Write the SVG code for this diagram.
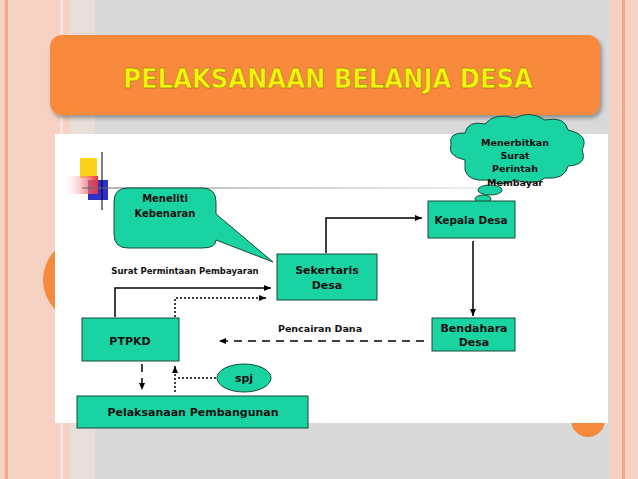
<svg xmlns="http://www.w3.org/2000/svg" width="638" height="479" viewBox="0 0 638 479">
<defs>
<linearGradient id="redg" x1="0" x2="1"><stop offset="0" stop-color="#fff" stop-opacity="0"/><stop offset="1" stop-color="#e8303a"/></linearGradient>
<linearGradient id="lineg" gradientUnits="userSpaceOnUse" x1="82" y1="0" x2="480" y2="0"><stop offset="0" stop-color="#666"/><stop offset="1" stop-color="#ddd"/></linearGradient>
<marker id="ah" markerWidth="8" markerHeight="8" refX="7" refY="4" orient="auto" markerUnits="userSpaceOnUse"><path d="M0,1 L7,4 L0,7 Z" fill="#000"/></marker>
<filter id="sh"><feDropShadow dx="2" dy="3" stdDeviation="2" flood-opacity="0.35"/></filter>
</defs>
<style>
.n{fill:#19d3a2;stroke:#1a4a3a;stroke-width:1}
.t{font-family:Verdana,"DejaVu Sans",sans-serif;font-weight:bold;fill:#111;text-anchor:middle}
.c{fill:none;stroke:#000;stroke-width:1.5}
</style>
<rect width="638" height="479" fill="#d9d9d9"/>
<rect x="0" y="0" width="95" height="479" fill="#f5d2c4"/>
<rect x="5" y="0" width="3" height="479" fill="#f2a88a"/>
<rect x="60" y="0" width="3" height="479" fill="#f7e4dc"/>
<rect x="70" y="0" width="25" height="479" fill="#eaded8"/>
<rect x="610" y="0" width="28" height="479" fill="#f5d2c4"/>
<rect x="622" y="0" width="3" height="479" fill="#f2a88a"/>
<circle cx="85" cy="280" r="42" fill="#f58a3c"/>
<circle cx="588" cy="420" r="17" fill="#f58a3c"/>
<rect x="50" y="35" width="550" height="80" rx="12" fill="#f98a3c" filter="url(#sh)"/>
<text x="328" y="88" font-family="'DejaVu Sans Condensed','DejaVu Sans',sans-serif" font-weight="bold" font-size="27" fill="#f2f20f" text-anchor="middle" stroke="#7a6a00" stroke-width="0.4">PELAKSANAAN BELANJA DESA</text>
<rect x="55" y="134" width="553" height="289" fill="#fff"/>
<rect x="80" y="158" width="17" height="20" fill="#fcd21a"/>
<rect x="88" y="180" width="20" height="20" fill="#3030c8"/>
<rect x="62" y="176" width="36" height="18" fill="url(#redg)"/>
<line x1="102" y1="152" x2="102" y2="210" stroke="#000" stroke-width="1"/>
<line x1="82" y1="188" x2="480" y2="188" stroke="url(#lineg)" stroke-width="1.2"/>
<g id="meneliti">
<path class="n" d="M128,188 H202 Q216,188 216,202 V214 L273,262 L216,240 Q216,248 202,248 H128 Q114,248 114,234 V202 Q114,188 128,188 Z"/>
<text class="t" font-size="10" x="165" y="202">Meneliti</text>
<text class="t" font-size="10" x="165" y="217">Kebenaran</text>
</g>
<g id="cloud">
<path class="n" d="M465,160 Q447,156 451,145 Q448,132 465,133 Q468,120 485,124 Q495,112 515,118 Q530,110 545,120 Q565,116 568,130 Q590,135 582,150 Q588,165 568,166 Q565,180 545,178 Q535,186 515,180 Q500,188 488,180 Q468,182 465,170 Z"/>
<ellipse class="n" cx="490" cy="190" rx="12" ry="5"/>
<ellipse class="n" cx="483" cy="199" rx="8" ry="4"/>
<ellipse class="n" cx="479" cy="205" rx="5" ry="3"/>
<text class="t" font-size="9.5" x="515" y="146">Menerbitkan</text>
<text class="t" font-size="9.5" x="515" y="159">Surat</text>
<text class="t" font-size="9.5" x="515" y="172">Perintah</text>
<text class="t" font-size="9.5" x="515" y="186">Membayar</text>
</g>
<g id="kepala"><rect class="n" x="428" y="201" width="87" height="37"/><text class="t" font-size="10.5" x="471" y="224">Kepala Desa</text></g>
<g id="sekertaris"><rect class="n" x="277" y="254" width="100" height="46"/><text class="t" font-size="11" x="327" y="274">Sekertaris</text><text class="t" font-size="11" x="327" y="289">Desa</text></g>
<g id="bendahara"><rect class="n" x="432" y="318" width="83" height="33"/><text class="t" font-size="11" x="474" y="332">Bendahara</text><text class="t" font-size="11" x="474" y="346">Desa</text></g>
<g id="ptpkd"><rect class="n" x="82" y="318" width="97" height="43"/><text class="t" font-size="11" x="130" y="345">PTPKD</text></g>
<g id="pelaksanaan"><rect class="n" x="77" y="396" width="231" height="32"/><text class="t" font-size="11" x="193" y="416">Pelaksanaan Pembangunan</text></g>
<g id="spj"><ellipse class="n" cx="244" cy="378" rx="27" ry="14"/><text class="t" font-size="11" x="244" y="382">spj</text></g>
<g id="connectors">
<path class="c" d="M326,253 V218 H422" marker-end="url(#ah)"/>
<path class="c" d="M473,241 V316" marker-end="url(#ah)"/>
<path class="c" d="M424,341 H219" stroke-dasharray="8,6" marker-end="url(#ah)"/>
<path class="c" d="M115,317 V288 H271" marker-end="url(#ah)"/>
<path class="c" d="M175,317 V298 H266" stroke-dasharray="2,2" marker-end="url(#ah)"/>
<path class="c" d="M142,364 V390" stroke-dasharray="8,6" marker-end="url(#ah)"/>
<path class="c" d="M175,392 V366" stroke-dasharray="2,2" marker-end="url(#ah)"/>
<path class="c" d="M216,378 H176" stroke-dasharray="2,2"/>
<text x="185" y="274" font-family="Verdana,'DejaVu Sans',sans-serif" font-weight="bold" font-size="8.5" fill="#111" text-anchor="middle">Surat Permintaan Pembayaran</text>
<text x="320" y="332" font-family="Verdana,'DejaVu Sans',sans-serif" font-weight="bold" font-size="9.5" fill="#111" text-anchor="middle">Pencairan Dana</text>
</g>
</svg>
